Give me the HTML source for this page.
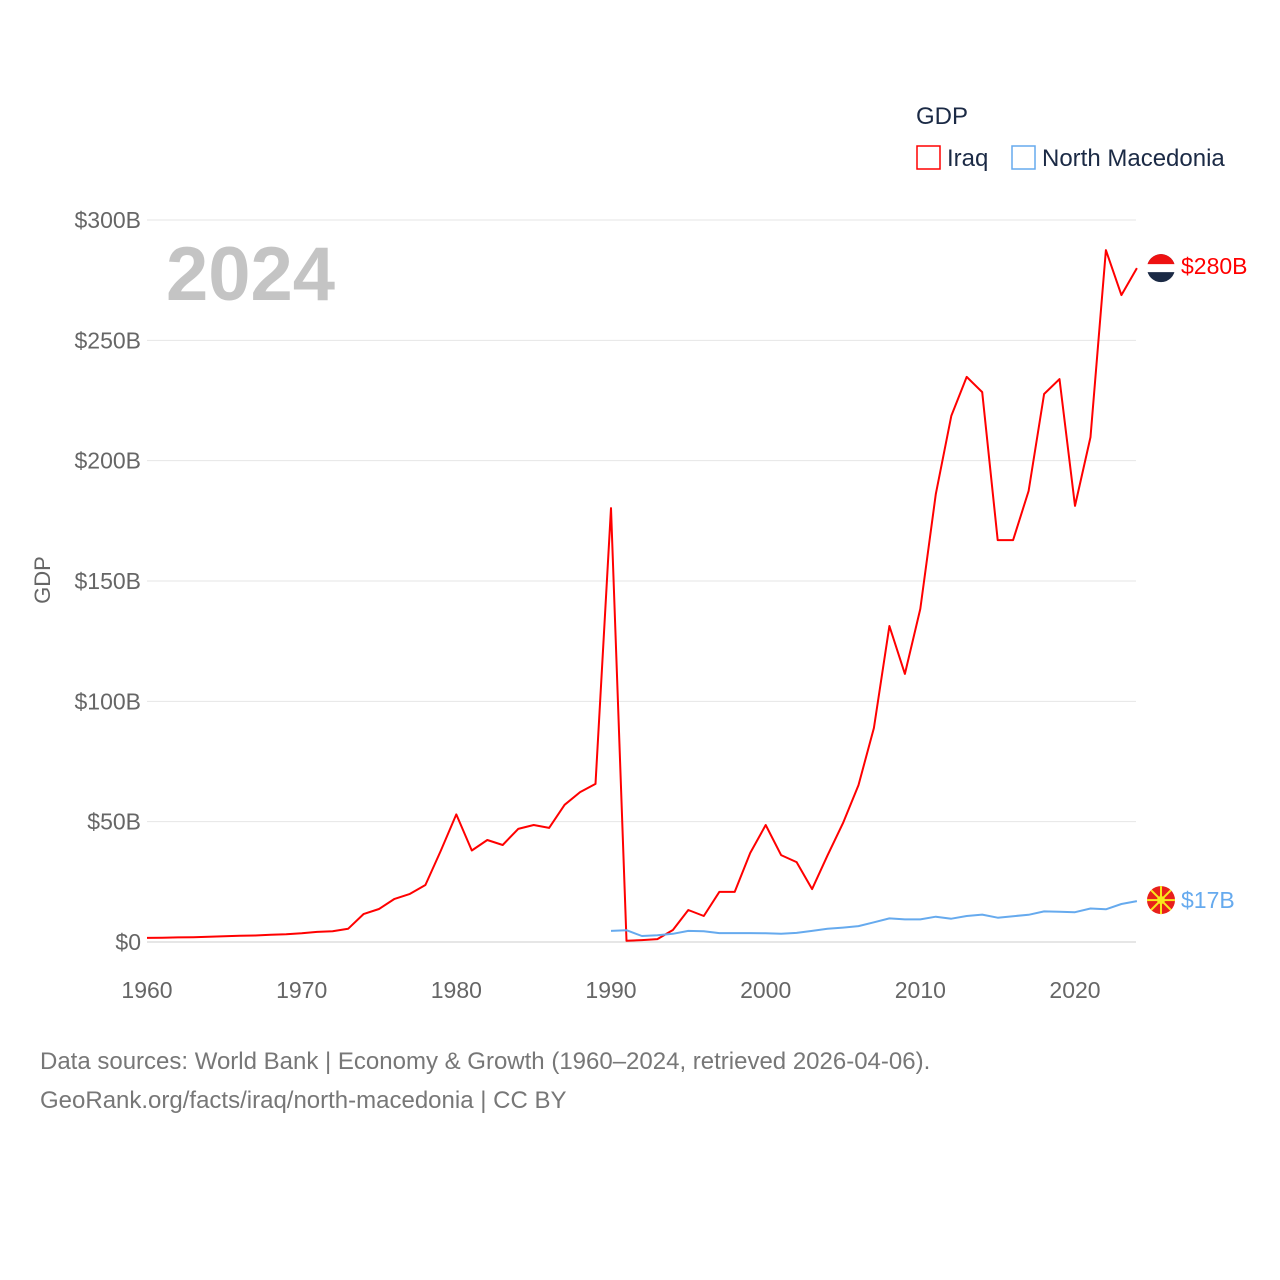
<!DOCTYPE html>
<html><head><meta charset="utf-8"><style>
body{margin:0;background:#fff;}
svg{display:block;font-family:"Liberation Sans",sans-serif;}
</style></head><body>
<svg id="chart" width="1280" height="1280" viewBox="0 0 1280 1280">
<g id="grid"></g>
<g id="yticks"></g>
<g id="xticks"></g>
<text x="50" y="580" transform="rotate(-90 50 580)" text-anchor="middle" font-size="22" fill="#666">GDP</text>
<text x="166" y="300" font-size="76" font-weight="bold" fill="#c4c4c4">2024</text>
<g id="series"></g>
<g>
<text x="916" y="124" font-size="24" fill="#1b2a45">GDP</text>
<rect x="917" y="146" width="23" height="23" fill="none" stroke="#ff0000" stroke-width="1.5"/>
<text x="947" y="166" font-size="24" fill="#1b2a45">Iraq</text>
<rect x="1012" y="146" width="23" height="23" fill="none" stroke="#66aaee" stroke-width="1.5"/>
<text x="1042" y="166" font-size="24" fill="#1b2a45">North Macedonia</text>
</g>
<text x="40" y="1069" font-size="24" fill="#777">Data sources: World Bank | Economy &amp; Growth (1960–2024, retrieved 2026-04-06).</text>
<text x="40" y="1108" font-size="24" fill="#777">GeoRank.org/facts/iraq/north-macedonia | CC BY</text>
</svg>
<script>
const years=[];for(let y=1960;y<=2024;y++)years.push(y);
const iraqValues=[1.7,1.8,1.9,2.0,2.2,2.4,2.6,2.7,3.0,3.2,3.6,4.2,4.5,5.5,11.6,13.7,17.9,20,23.7,38,53,38,42.4,40.3,47,48.6,47.4,57,62.3,65.7,180.3,0.5,0.8,1.2,5,13.3,10.8,20.8,20.8,37,48.6,36.1,33.2,22,36,49.4,65.2,88.9,131.3,111.4,138.4,186.1,218.6,234.8,228.5,167,167,187.4,227.7,233.9,181.2,209.8,287.5,268.8,280];
const mkdYears=[];for(let y=1990;y<=2024;y++)mkdYears.push(y);
const mkdValues=[4.6,4.9,2.5,2.8,3.4,4.6,4.5,3.7,3.7,3.7,3.6,3.4,3.8,4.6,5.5,6.0,6.6,8.2,9.8,9.4,9.4,10.5,9.7,10.8,11.4,10.1,10.7,11.3,12.7,12.6,12.4,13.9,13.6,15.8,17];
const yTicks=[0,50,100,150,200,250,300];
const yTickLabels=["$0","$50B","$100B","$150B","$200B","$250B","$300B"];
const xTicks=[1960,1970,1980,1990,2000,2010,2020];
const NS="http://www.w3.org/2000/svg";
const xS=y=>147+(y-1960)*(928/60);
const yS=v=>942-v*(722/300);
function el(t,a,p){const e=document.createElementNS(NS,t);for(const k in a)e.setAttribute(k,a[k]);p.appendChild(e);return e;}
const grid=document.getElementById('grid'),yt=document.getElementById('yticks'),xt=document.getElementById('xticks'),ser=document.getElementById('series');
yTicks.forEach((v,i)=>{
 const l=el('line',{x1:147,x2:1136,y1:yS(v),y2:yS(v),stroke:v===0?'#ccc':'#e6e6e6','stroke-width':1},grid);
 
 
 const t=el('text',{x:141,y:yS(v)+8,'text-anchor':'end','font-size':23,fill:'#666'},yt);
 t.textContent=yTickLabels[i];
 
 
});
xTicks.forEach(y=>{
 const t=el('text',{x:xS(y),y:998,'text-anchor':'middle','font-size':23,fill:'#666'},xt);
 t.textContent=y;
 
 
});
function line(xs,vs,c,name){
 const d=vs.map((v,i)=>(i?'L':'M')+xS(xs[i]).toFixed(1)+','+yS(v).toFixed(1)).join('');
 const p=el('path',{d:d,fill:'none',stroke:c,'stroke-width':2,'stroke-linejoin':'round'},ser);
 
 
}
line(years,iraqValues,'#ff0000','iraq-line');
line(mkdYears,mkdValues,'#66aaee','north-macedonia-line');
const iv=iraqValues[iraqValues.length-1],mv=mkdValues[mkdValues.length-1];
const f1=el('g',{},ser);


const cy1=yS(iv);
el('circle',{cx:1161,cy:cy1,r:14,fill:'#1b2a45'},f1);
el('path',{d:`M1147,${cy1} A14,14 0 0 1 1175,${cy1} Z`,fill:'#ee1111'},f1);
el('rect',{x:1147,y:cy1-4,width:28,height:8,fill:'#fff'},f1);
const t1=el('text',{x:1181,y:cy1+6,'font-size':23,fill:'#ff0000'},ser);
t1.textContent='$'+Math.round(iv)+'B';


const f2=el('g',{},ser);


el('circle',{cx:1161,cy:yS(mv)-1,r:14,fill:'#e8201a'},f2);
el('circle',{cx:1161,cy:yS(mv)-1,r:4,fill:'#f8e71c'},f2);
for(let a=0;a<8;a++){const r=a*Math.PI/4;el('line',{x1:1161,y1:yS(mv)-1,x2:1161+14*Math.cos(r),y2:yS(mv)-1+14*Math.sin(r),stroke:'#f8e71c','stroke-width':2},f2);}
const t2=el('text',{x:1181,y:yS(mv)+7,'font-size':23,fill:'#66aaee'},ser);
t2.textContent='$'+Math.round(mv)+'B';


</script>
</body></html>
